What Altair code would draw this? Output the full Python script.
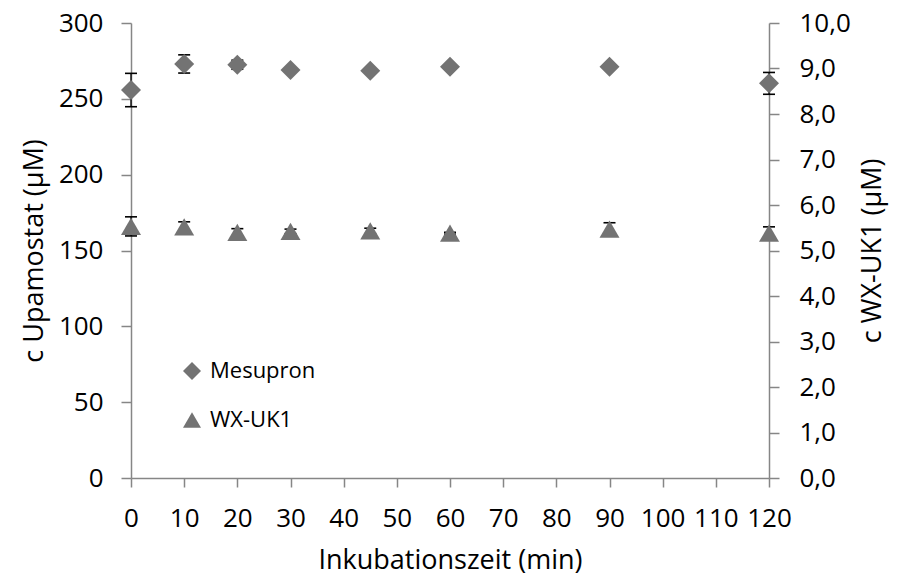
import altair as alt
import pandas as pd

# ---- data ----
times = [0, 10, 20, 30, 45, 60, 90, 120]
mesupron = [255.8, 273.0, 272.5, 269.0, 268.5, 271.2, 271.2, 260.2]
mesupron_err = [11.0, 6.0, 3.0, 1.0, 1.0, 1.0, 1.0, 7.2]
wxuk1 = [5.53, 5.52, 5.40, 5.42, 5.43, 5.38, 5.47, 5.38]
wxuk1_err = [0.21, 0.11, 0.08, 0.05, 0.06, 0.02, 0.14, 0.14]
series_names = ["Mesupron", "WX-UK1"]
x_ticks = list(range(0, 121, 10))
left_ticks = list(range(0, 301, 50))
right_ticks = list(range(0, 11, 1))

df_m = pd.DataFrame({
    "t": times, "v": mesupron,
    "lo": [v - e for v, e in zip(mesupron, mesupron_err)],
    "hi": [v + e for v, e in zip(mesupron, mesupron_err)],
    "series": series_names[0],
})
df_w = pd.DataFrame({
    "t": times, "v": wxuk1,
    "lo": [v - e for v, e in zip(wxuk1, wxuk1_err)],
    "hi": [v + e for v, e in zip(wxuk1, wxuk1_err)],
    "series": series_names[1],
})

FONT = "Open Sans"
GRAY = "#737373"
AXC = "#868686"

shape_scale = alt.Scale(domain=series_names, range=["diamond", "triangle-up"])

x_axis = alt.Axis(values=x_ticks, title="Inkubationszeit (min)", grid=False,
                  labelOverlap=False, labelFlush=False,
                  tickSize=9, labelPadding=18, titlePadding=16)
xs = alt.Scale(domain=[0, 120], nice=False)

left_axis = alt.Axis(values=left_ticks, title="c Upamostat (µM)", grid=False,
                     labelOverlap=False, labelFlush=False,
                     orient="left", tickSize=10, labelPadding=18, titlePadding=10)
right_axis = alt.Axis(values=right_ticks, title="c WX-UK1 (µM)", grid=False,
                      labelOverlap=False, labelFlush=False,
                      orient="right", tickSize=10, labelPadding=20, titlePadding=36,
                      titleAngle=270,
                      labelExpr="replace(format(datum.value, '.1f'), '.', ',')")
yl = alt.Scale(domain=[0, 300], nice=False)
yr = alt.Scale(domain=[0, 10], nice=False)

legend = alt.Legend(orient="none", legendX=50, legendY=337, title=None,
                    symbolSize=324, symbolFillColor=GRAY, symbolStrokeColor=GRAY,
                    symbolStrokeWidth=0, labelFont=FONT, labelFontSize=22,
                    labelColor="black", rowPadding=27, labelOffset=7)


def series_layer(df, yscale, yaxis):
    X = alt.X("t:Q", scale=xs, axis=x_axis)

    def Y(f):
        return alt.Y(f, scale=yscale, axis=yaxis)

    base = alt.Chart(df)
    rule = base.mark_rule(color="black", strokeWidth=1.3).encode(
        x=X, y=Y("lo:Q"), y2="hi:Q")
    cap_lo = base.mark_point(shape="stroke", size=144, color="black",
                             strokeWidth=1.6, opacity=1).encode(x=X, y=Y("lo:Q"))
    cap_hi = base.mark_point(shape="stroke", size=144, color="black",
                             strokeWidth=1.6, opacity=1).encode(x=X, y=Y("hi:Q"))
    pts = base.mark_point(filled=True, size=400, color=GRAY, opacity=1).encode(
        x=X, y=Y("v:Q"),
        shape=alt.Shape("series:N", scale=shape_scale, legend=legend))
    return alt.layer(rule, cap_lo, cap_hi, pts)


left = series_layer(df_m, yl, left_axis)
right = series_layer(df_w, yr, right_axis)

chart = alt.layer(left, right).resolve_scale(y="independent").properties(
    width=638, height=455,
    autosize=alt.AutoSizeParams(type="none"),
    padding={"left": 123, "top": 15, "right": 124, "bottom": 97},
).configure_view(stroke=None).configure_axis(
    domainColor=AXC, tickColor=AXC, domainWidth=1.5, tickWidth=1.5,
    labelFont=FONT, labelFontSize=26, labelColor="black",
    titleFont=FONT, titleFontSize=27, titleFontWeight="normal", titleColor="black",
)

chart.save("out.html", embed_options={"renderer": "svg", "actions": False})
